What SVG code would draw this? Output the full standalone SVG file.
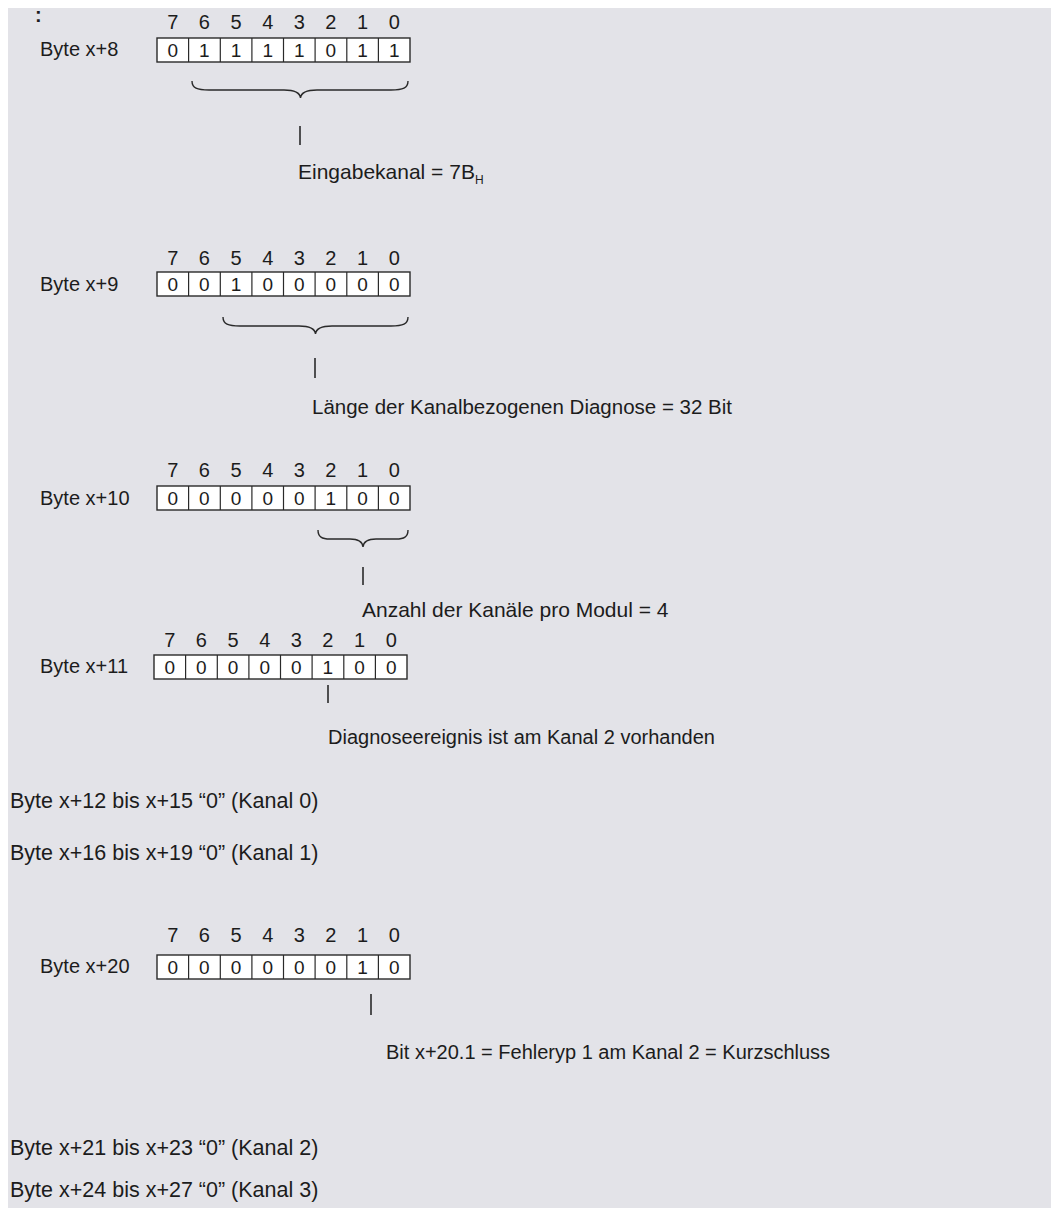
<svg xmlns="http://www.w3.org/2000/svg" xmlns:xlink="http://www.w3.org/1999/xlink" width="1053" height="1208" viewBox="0 0 1053 1208">
  <style>
    text { font-family: "Liberation Sans", Arial, sans-serif; fill: #1c1c1c; }
    .lbl { font-size: 20px; }
    .note { font-size: 20.5px; }
    .free { font-size: 21.5px; }
    .num { font-size: 20px; text-anchor: middle; }
    .val { font-size: 19px; text-anchor: middle; }
    .sub { font-size: 12px; }
    .frame { fill: #ffffff; stroke: #2a2a2a; stroke-width: 1.4; }
    .div { stroke: #2a2a2a; stroke-width: 1.2; }
    .brace { fill: none; stroke: #2a2a2a; stroke-width: 1.4; }
    .tick { stroke: #2a2a2a; stroke-width: 1.6; }
  </style>
  <defs>
    <!-- eight-cell byte frame, 253 x 24, origin at top-left -->
    <g id="byteFrame">
      <rect class="frame" x="0" y="0" width="253" height="24"/>
      <line class="div" x1="31.6" y1="0" x2="31.6" y2="24"/>
      <line class="div" x1="63.3" y1="0" x2="63.3" y2="24"/>
      <line class="div" x1="94.9" y1="0" x2="94.9" y2="24"/>
      <line class="div" x1="126.5" y1="0" x2="126.5" y2="24"/>
      <line class="div" x1="158.1" y1="0" x2="158.1" y2="24"/>
      <line class="div" x1="189.8" y1="0" x2="189.8" y2="24"/>
      <line class="div" x1="221.4" y1="0" x2="221.4" y2="24"/>
    </g>
    <!-- bit position header 7..0 above a frame -->
    <g id="bitNums">
      <text class="num" x="15.8" y="0">7</text>
      <text class="num" x="47.4" y="0">6</text>
      <text class="num" x="79.1" y="0">5</text>
      <text class="num" x="110.7" y="0">4</text>
      <text class="num" x="142.3" y="0">3</text>
      <text class="num" x="173.9" y="0">2</text>
      <text class="num" x="205.6" y="0">1</text>
      <text class="num" x="237.2" y="0">0</text>
    </g>
  </defs>

  <!-- panel -->
  <rect x="0" y="0" width="1053" height="1208" fill="#ffffff"/>
  <rect x="8" y="8" width="1043" height="1200" fill="#e3e3e8"/>

  <text x="35" y="22" style="font-size:20px;font-weight:bold">:</text>

  <!-- Byte x+8 -->
  <g id="byte8">
    <use xlink:href="#bitNums" x="157" y="29"/>
    <text class="lbl" x="40" y="56">Byte x+8</text>
    <use xlink:href="#byteFrame" x="157" y="38"/>
    <g transform="translate(157,57)">
      <text class="val" x="15.8">0</text><text class="val" x="47.4">1</text><text class="val" x="79.1">1</text><text class="val" x="110.7">1</text>
      <text class="val" x="142.3">1</text><text class="val" x="173.9">0</text><text class="val" x="205.6">1</text><text class="val" x="237.2">1</text>
    </g>
    <text class="note" x="298" y="179" style="font-size:21px">Eingabekanal = 7B<tspan class="sub" dy="5">H</tspan></text>
  </g>

  <!-- Byte x+9 -->
  <g id="byte9">
    <use xlink:href="#bitNums" x="157" y="265"/>
    <text class="lbl" x="40" y="291">Byte x+9</text>
    <use xlink:href="#byteFrame" x="157" y="272"/>
    <g transform="translate(157,291)">
      <text class="val" x="15.8">0</text><text class="val" x="47.4">0</text><text class="val" x="79.1">1</text><text class="val" x="110.7">0</text>
      <text class="val" x="142.3">0</text><text class="val" x="173.9">0</text><text class="val" x="205.6">0</text><text class="val" x="237.2">0</text>
    </g>
    <text class="note" x="312" y="414">Länge der Kanalbezogenen Diagnose = 32 Bit</text>
  </g>

  <!-- Byte x+10 -->
  <g id="byte10">
    <use xlink:href="#bitNums" x="157" y="477"/>
    <text class="lbl" x="40" y="505">Byte x+10</text>
    <use xlink:href="#byteFrame" x="157" y="486"/>
    <g transform="translate(157,505)">
      <text class="val" x="15.8">0</text><text class="val" x="47.4">0</text><text class="val" x="79.1">0</text><text class="val" x="110.7">0</text>
      <text class="val" x="142.3">0</text><text class="val" x="173.9">1</text><text class="val" x="205.6">0</text><text class="val" x="237.2">0</text>
    </g>
    <text class="note" x="362" y="617" style="font-size:21px">Anzahl der Kanäle pro Modul = 4</text>
  </g>

  <!-- Byte x+11 -->
  <g id="byte11">
    <use xlink:href="#bitNums" x="154" y="647"/>
    <text class="lbl" x="40" y="673">Byte x+11</text>
    <use xlink:href="#byteFrame" x="154" y="655"/>
    <g transform="translate(154,674)">
      <text class="val" x="15.8">0</text><text class="val" x="47.4">0</text><text class="val" x="79.1">0</text><text class="val" x="110.7">0</text>
      <text class="val" x="142.3">0</text><text class="val" x="173.9">1</text><text class="val" x="205.6">0</text><text class="val" x="237.2">0</text>
    </g>
    <text class="note" x="328" y="744" style="font-size:20px">Diagnoseereignis ist am Kanal 2 vorhanden</text>
  </g>

  <g id="kanal0"><text class="free" x="10" y="808">Byte x+12 bis x+15 “0” (Kanal 0)</text></g>
  <g id="kanal1"><text class="free" x="10" y="860">Byte x+16 bis x+19 “0” (Kanal 1)</text></g>

  <!-- Byte x+20 -->
  <g id="byte20">
    <use xlink:href="#bitNums" x="157" y="942"/>
    <text class="lbl" x="40" y="973">Byte x+20</text>
    <use xlink:href="#byteFrame" x="157" y="955"/>
    <g transform="translate(157,974)">
      <text class="val" x="15.8">0</text><text class="val" x="47.4">0</text><text class="val" x="79.1">0</text><text class="val" x="110.7">0</text>
      <text class="val" x="142.3">0</text><text class="val" x="173.9">0</text><text class="val" x="205.6">1</text><text class="val" x="237.2">0</text>
    </g>
    <text class="note" x="386" y="1059" style="font-size:20px">Bit x+20.1 = Fehleryp 1 am Kanal 2 = Kurzschluss</text>
  </g>

  <g id="kanal2"><text class="free" x="10" y="1155">Byte x+21 bis x+23 “0” (Kanal 2)</text></g>
  <g id="kanal3"><text class="free" x="10" y="1197">Byte x+24 bis x+27 “0” (Kanal 3)</text></g>

  <!-- braces and pointer ticks -->
  <g id="connectors">
    <path class="brace" d="M192 81 C192 88 197 90 209 90 L284 90 C294 90 300 93 300.5 98 C301 93 307 90 317 90 L391 90 C403 90 408 88 408 81"/>
    <line class="tick" x1="300" y1="126" x2="300" y2="145"/>

    <path class="brace" d="M223 317 C223 324 228 326 240 326 L299 326 C309 326 315 329 315.5 334 C316 329 322 326 332 326 L391 326 C403 326 408 324 408 317"/>
    <line class="tick" x1="315" y1="358" x2="315" y2="378"/>

    <path class="brace" d="M318 530 C318 537 322 539 330 539 L350 539 C358 539 362.5 542 363 547 C363.5 542 368 539 376 539 L396 539 C404 539 408 537 408 530"/>
    <line class="tick" x1="363" y1="567" x2="363" y2="585"/>

    <line class="tick" x1="328" y1="685" x2="328" y2="703"/>

    <line class="tick" x1="371" y1="994" x2="371" y2="1015"/>
  </g>
</svg>
